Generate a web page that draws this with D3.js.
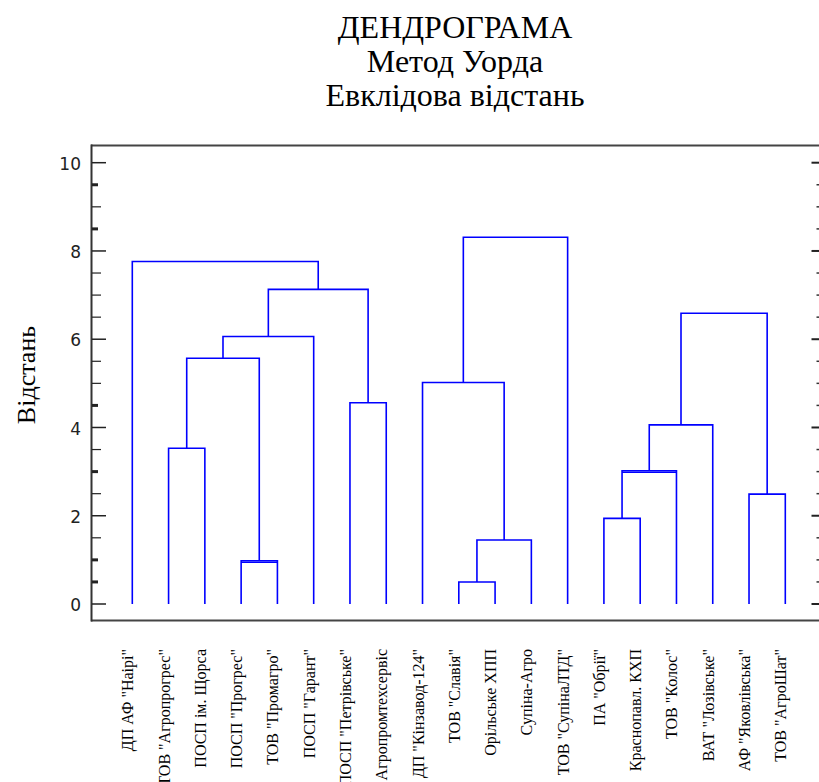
<!DOCTYPE html>
<html>
<head>
<meta charset="utf-8">
<script src="https://cdn.jsdelivr.net/npm/d3@7"></script>
<style>
    body { margin: 0; background: #fff; }
    svg { display: block; }
</style>
</head>
<body>
<div id="chart"></div>
<script>
// Dendrogram

const width = 819;
const height = 782;

const leaves = [
    "ДП АФ \"Наірі\"",
    "ТОВ \"Агропрогрес\"",
    "ПОСП ім. Щорса",
    "ПОСП \"Прогрес\"",
    "ТОВ \"Промагро\"",
    "ПОСП \"Гарант\"",
    "ПОСП \"Петрівське\"",
    "Агропромтехсервіс",
    "ДП \"Кінзавод-124\"",
    "ТОВ \"Славія\"",
    "Орільське ХПП",
    "Супіна-Агро",
    "ТОВ \"СупінаЛТД\"",
    "ПА \"Обрії\"",
    "Краснопавл. КХП",
    "ТОВ \"Колос\"",
    "ВАТ \"Лозівське\"",
    "АФ \"Яковлівська\"",
    "ТОВ \"АгроШат\""
];

// merges: children (leaf index, or 19 + merge index) and joining distance
const mergeLeft  = [9, 3, 19, 13, 17, 22, 1, 24, 6, 8, 25, 29, 26, 30, 0, 28];
const mergeRight = [10, 4, 11, 14, 18, 15, 2, 16, 7, 21, 20, 5, 23, 27, 32, 12];
const mergeHeight = [0.50, 0.98, 1.45, 1.94, 2.49, 3.02, 3.53, 4.06, 4.56, 5.02, 5.57, 6.06, 6.59, 7.13, 7.76, 8.31];

const majorTicks = [0, 2, 4, 6, 8, 10];
const minorTicks = [0.5, 1, 1.5, 2.5, 3, 3.5, 4.5, 5, 5.5, 6.5, 7, 7.5, 8.5, 9, 9.5];
const boldMinor = [0.5, 1, 3, 4.5, 8.5, 9.5];

const titleLines = ["ДЕНДРОГРАМА", "Метод Уорда", "Евклідова відстань"];
const yTitle = "Відстань";

const svg = d3.select("#chart")
    .append("svg")
    .attr("width", width)
    .attr("height", height);

const x = d3.scalePoint()
    .domain(d3.range(leaves.length))
    .range([132.3, 785.3]);

const y = d3.scaleLinear()
    .domain([0, 10])
    .range([604, 162.7]);

// title
svg.selectAll(".title")
    .data(titleLines)
    .enter()
    .append("text")
    .attr("class", "title")
    .attr("x", 455)
    .attr("y", (d, i) => 38 + i * 34)
    .attr("text-anchor", "middle")
    .style("font-family", "'Liberation Serif', 'Times New Roman', serif")
    .style("font-size", "32px")
    .text(d => d);

// frame
svg.append("line")
    .attr("x1", 91).attr("x2", width + 5)
    .attr("y1", 145.5).attr("y2", 145.5)
    .attr("stroke", "#444").attr("stroke-width", 2);
svg.append("line")
    .attr("x1", 91).attr("x2", width + 5)
    .attr("y1", 620.5).attr("y2", 620.5)
    .attr("stroke", "#444").attr("stroke-width", 2);
svg.append("line")
    .attr("x1", 91.5).attr("x2", 91.5)
    .attr("y1", 144.5).attr("y2", 621.5)
    .attr("stroke", "#333").attr("stroke-width", 2);

// left axis ticks
svg.selectAll(".major")
    .data(majorTicks)
    .enter()
    .append("line")
    .attr("x1", 92).attr("x2", 106)
    .attr("y1", d => y(d)).attr("y2", d => y(d))
    .attr("stroke", "#222").attr("stroke-width", 1.5);

svg.selectAll(".minor")
    .data(minorTicks)
    .enter()
    .append("line")
    .attr("x1", 92)
    .attr("x2", d => boldMinor.includes(d) ? 98 : 101)
    .attr("y1", d => y(d)).attr("y2", d => y(d))
    .attr("stroke", "#222")
    .attr("stroke-width", d => boldMinor.includes(d) ? 3 : 1.2);

svg.selectAll(".tick-label")
    .data(majorTicks)
    .enter()
    .append("text")
    .attr("x", 81)
    .attr("y", d => y(d))
    .attr("dy", "0.42em")
    .attr("text-anchor", "end")
    .style("font-family", "'DejaVu Sans', sans-serif")
    .style("font-size", "17px")
    .attr("fill", "#222")
    .text(d => d);

// right axis ticks
svg.selectAll(".rmajor")
    .data(majorTicks)
    .enter()
    .append("line")
    .attr("x1", 811.5).attr("x2", width)
    .attr("y1", d => y(d)).attr("y2", d => y(d))
    .attr("stroke", "#222").attr("stroke-width", 2);

svg.selectAll(".rminor")
    .data(minorTicks)
    .enter()
    .append("line")
    .attr("x1", 816.5).attr("x2", width)
    .attr("y1", d => y(d)).attr("y2", d => y(d))
    .attr("stroke", "#333").attr("stroke-width", 1.5);

// y title
svg.append("text")
    .attr("transform", "translate(35,375) rotate(-90)")
    .attr("text-anchor", "middle")
    .style("font-family", "'Liberation Serif', 'Times New Roman', serif")
    .style("font-size", "26px")
    .text(yTitle);

// dendrogram links
const n = leaves.length;
const nodeX = d3.range(n).map(i => x(i));
const nodeH = d3.range(n).map(() => 0);

mergeHeight.forEach((h, i) => {
    const a = mergeLeft[i], b = mergeRight[i];
    const xa = nodeX[a], xb = nodeX[b];
    const p = d3.path();
    p.moveTo(xa, y(nodeH[a]));
    p.lineTo(xa, y(h));
    p.lineTo(xb, y(h));
    p.lineTo(xb, y(nodeH[b]));

    svg.append("path")
        .attr("class", "link")
        .attr("d", p.toString())
        .attr("fill", "none")
        .attr("stroke", "#0000ff")
        .attr("stroke-width", 1.6);

    // doubled bars in the original at the two tie merges
    if (i === 1 || i === 5) {
        svg.append("line")
            .attr("x1", Math.min(xa, xb)).attr("x2", Math.max(xa, xb))
            .attr("y1", y(h) + 1.5).attr("y2", y(h) + 1.5)
            .attr("stroke", "#0000ff")
            .attr("stroke-width", 1.6);
    }

    nodeX.push((xa + xb) / 2);
    nodeH.push(h);
});

// leaf labels
svg.selectAll(".leaf-label")
    .data(leaves)
    .enter()
    .append("text")
    .attr("class", "leaf-label")
    .attr("transform", (d, i) => "translate(" + (x(i) + 1) + ",649) rotate(-90)")
    .attr("text-anchor", "end")
    .style("font-family", "'Liberation Serif', 'Times New Roman', serif")
    .style("font-size", "16px")
    .text(d => d);
</script>
</body>
</html>
